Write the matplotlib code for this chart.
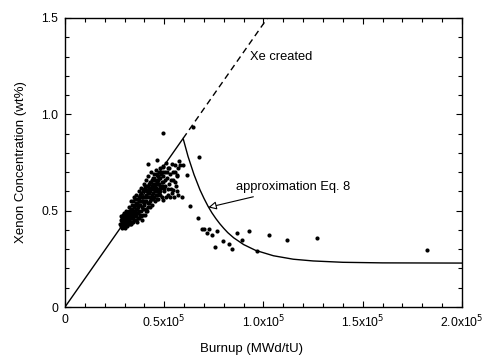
import matplotlib
matplotlib.use("Agg")
import matplotlib.pyplot as plt
from matplotlib.ticker import MultipleLocator, FixedLocator
import numpy as np

plt.rcParams['font.family'] = ['Liberation Sans', 'DejaVu Sans']

# Measured data (burnup in thousands of MWd/tU, xenon in wt%)
cluster_burnup_k = [
    27.8, 28.0, 28.3, 28.5, 28.7, 29.0, 29.2, 29.4, 29.6, 29.8, 30.0, 30.1, 30.3, 30.5, 30.7,
    30.9, 31.0, 31.2, 31.4, 31.6, 31.8, 32.0, 32.2, 32.4, 32.6, 32.8, 33.0, 33.2, 33.4, 33.6,
    33.8, 34.0, 34.2, 34.4, 34.6, 34.8, 35.0, 35.2, 35.4, 35.6, 35.8, 36.0, 36.2, 36.4, 36.6,
    36.8, 37.0, 37.2, 37.4, 37.6, 37.8, 38.0, 38.2, 38.4, 38.6, 38.8, 39.0, 39.2, 39.4, 39.6,
    39.8, 40.0, 40.2, 40.4, 40.6, 40.8, 41.0, 41.2, 41.4, 41.6, 41.8, 42.0, 42.2, 42.4, 42.6,
    42.8, 43.0, 43.2, 43.4, 43.6, 43.8, 44.0, 44.2, 44.4, 44.6, 44.8, 45.0, 45.2, 45.4, 45.6,
    45.8, 46.0, 46.2, 46.4, 46.6, 46.8, 47.0, 47.2, 47.4, 47.6, 47.8, 48.0, 48.3, 48.6, 48.9,
    49.2, 49.5, 49.8, 50.2, 50.6, 51.0, 51.4, 51.8, 52.2, 52.6, 53.0, 53.5, 54.0, 54.5, 55.0,
    55.5, 56.0, 56.5,
    28.2, 28.9, 29.5, 30.2, 30.8, 31.5, 32.1, 32.9, 33.5, 34.1, 34.9, 35.5, 36.1, 36.7, 37.3,
    37.9, 38.5, 39.1, 39.7, 40.3, 40.9, 41.5, 42.1, 42.7, 43.3, 43.9, 44.5, 45.1, 45.7, 46.3,
    46.9, 47.5, 48.1, 48.7, 49.3, 50.0,
    29.1, 30.4, 31.1, 31.9, 32.5, 33.1, 33.7, 34.3, 34.7, 35.3, 35.9, 36.3, 36.9, 37.5, 38.1,
    38.7, 39.3, 39.9, 40.5, 41.1, 41.7, 42.3, 42.9, 43.5, 44.1, 44.7, 45.3, 45.9, 46.5, 47.1,
    47.7, 48.4, 49.0, 49.6, 50.4, 51.2, 52.0, 53.2, 54.2, 55.2, 56.2, 57.0, 35.7, 37.1, 38.9,
    40.7, 42.5, 44.3, 46.1, 47.9, 50.8, 53.8,
]
cluster_xe = [
    0.43, 0.45, 0.42, 0.44, 0.46, 0.43, 0.45, 0.47, 0.42, 0.44, 0.46, 0.43, 0.48, 0.45, 0.44,
    0.47, 0.42, 0.49, 0.46, 0.44, 0.48, 0.45, 0.50, 0.47, 0.43, 0.49, 0.46, 0.51, 0.48, 0.44,
    0.53, 0.50, 0.47, 0.55, 0.52, 0.45, 0.49, 0.56, 0.53, 0.47, 0.51, 0.58, 0.54, 0.49, 0.46,
    0.56, 0.52, 0.60, 0.55, 0.48, 0.58, 0.53, 0.50, 0.62, 0.57, 0.45, 0.55, 0.60, 0.51, 0.64,
    0.57, 0.53, 0.48, 0.61, 0.58, 0.66, 0.55, 0.50, 0.63, 0.59, 0.54, 0.68, 0.61, 0.57, 0.52,
    0.65, 0.60, 0.56, 0.70, 0.63, 0.58, 0.53, 0.67, 0.61, 0.57, 0.64, 0.69, 0.60, 0.55, 0.66,
    0.62, 0.71, 0.58, 0.65, 0.68, 0.61, 0.56, 0.70, 0.64, 0.59, 0.72, 0.67, 0.62, 0.69, 0.57,
    0.73, 0.65, 0.60, 0.70, 0.63, 0.75, 0.67, 0.58, 0.72, 0.64, 0.69, 0.61, 0.74, 0.66, 0.57,
    0.70, 0.63, 0.68,
    0.47, 0.41, 0.49, 0.41, 0.50, 0.43, 0.52, 0.44, 0.55, 0.46, 0.57, 0.50, 0.44, 0.53, 0.46,
    0.55, 0.59, 0.48, 0.54, 0.63, 0.51, 0.57, 0.64, 0.55, 0.62, 0.66, 0.59, 0.63, 0.58, 0.69,
    0.64, 0.67, 0.60, 0.65, 0.68, 0.62,
    0.48, 0.42, 0.45, 0.43, 0.46, 0.43, 0.49, 0.44, 0.50, 0.48, 0.54, 0.51, 0.49, 0.57, 0.47,
    0.52, 0.57, 0.61, 0.55, 0.60, 0.52, 0.59, 0.62, 0.57, 0.64, 0.61, 0.66, 0.64, 0.60, 0.66,
    0.63, 0.70, 0.63, 0.70, 0.66, 0.70, 0.61, 0.66, 0.70, 0.65, 0.60, 0.72, 0.45, 0.50, 0.55,
    0.50, 0.54, 0.56, 0.56, 0.58, 0.57, 0.59,
]
outlier_burnup_k = [
    42.0, 46.2, 49.5, 49.5, 52.0, 55.4, 56.3, 57.4, 58.0, 59.3, 61.6, 49.5, 52.9, 54.6, 57.0,
    58.8, 64.3, 67.7, 63.0, 67.2, 68.9, 70.0, 72.5, 71.4, 73.9, 76.7, 75.4, 79.4, 82.8, 84.3,
    86.5, 89.0, 92.7, 96.9, 102.8, 111.7, 126.8, 182.5,
]
outlier_xe = [
    0.742, 0.763, 0.728, 0.901, 0.72, 0.737, 0.685, 0.759, 0.737, 0.737, 0.685, 0.555, 0.572,
    0.607, 0.581, 0.572, 0.932, 0.777, 0.526, 0.46, 0.403, 0.405, 0.405, 0.382, 0.374, 0.396,
    0.313, 0.341, 0.325, 0.299, 0.382, 0.348, 0.394, 0.292, 0.372, 0.348, 0.356, 0.296,
]

# Approximation Eq. 8
approx_burnup_k = [0, 59.5, 62, 65, 68, 70, 72, 74, 76, 78, 80, 82, 85, 90, 96, 105, 115,
                   125, 140, 160, 200]
approx_xe = [0, 0.875, 0.781, 0.687, 0.608, 0.564, 0.524, 0.489, 0.459, 0.432, 0.408, 0.386,
             0.359, 0.324, 0.294, 0.266, 0.248, 0.239, 0.232, 0.229, 0.228]

# Xe created (dashed continuation)
created_burnup_k = [59.5, 102.0]
created_xe = [0.875, 1.5]

x_ticks = [0, 50000, 100000, 150000, 200000]
x_tick_labels = ['0', r'0.5x10$^5$', r'1.0x10$^5$', r'1.5x10$^5$', r'2.0x10$^5$']
y_ticks = [0, 0.5, 1.0, 1.5]
y_tick_labels = ['0', '0.5', '1.0', '1.5']

fig = plt.figure(figsize=(4.85, 3.6), dpi=100)
ax = fig.add_axes([65 / 485, 1 - 307 / 360, (462 - 65) / 485, (307 - 18) / 360])

k = 1000.0
ax.plot(np.array(approx_burnup_k) * k, approx_xe, color='black', lw=1.0)
ax.plot(np.array(created_burnup_k) * k, created_xe, color='black', lw=1.0,
        dashes=(4.5, 3), clip_on=True)
ax.scatter(np.array(cluster_burnup_k) * k, cluster_xe, s=9, color='black', lw=0, zorder=3)
ax.scatter(np.array(outlier_burnup_k) * k, outlier_xe, s=9, color='black', lw=0, zorder=3)

ax.set_xlim(0, 200000)
ax.set_ylim(0, 1.5)
ax.xaxis.set_major_locator(FixedLocator(x_ticks))
ax.set_xticklabels(x_tick_labels)
ax.yaxis.set_major_locator(FixedLocator(y_ticks))
ax.set_yticklabels(y_tick_labels)
ax.xaxis.set_minor_locator(MultipleLocator(10000))
ax.yaxis.set_minor_locator(MultipleLocator(0.1))
ax.tick_params(which='both', direction='in', top=True, right=True, width=0.8,
               labelsize=8.8)
ax.tick_params(which='major', length=4, pad=5)
ax.tick_params(which='minor', length=3)
for sp in ax.spines.values():
    sp.set_linewidth(1.0)

ax.set_xlabel('Burnup (MWd/tU)', fontsize=9.5)
ax.xaxis.set_label_coords(0.471, -0.125)
ax.set_ylabel('Xenon Concentration (wt%)', fontsize=9.5, labelpad=10)

ax.text(93200, 1.297, 'Xe created', fontsize=9.3, va='center', ha='left')
ax.annotate('approximation Eq. 8', xy=(72200, 0.517), xytext=(86200, 0.621),
            fontsize=9.3, va='center', ha='left',
            arrowprops=dict(arrowstyle='-|>', fc='white', ec='black', lw=0.8,
                            mutation_scale=12, shrinkA=2, shrinkB=0))

fig.savefig('out.png', dpi=100)
